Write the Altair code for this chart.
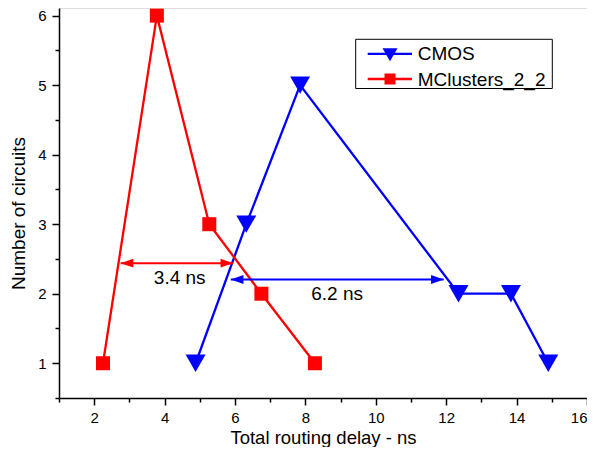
import altair as alt
import pandas as pd

# ---- data ----
cmos_x = [4.88, 6.32, 7.85, 12.35, 13.84, 14.9]
cmos_y = [1, 3, 5, 2, 2, 1]
mc_x = [2.25, 3.78, 5.27, 6.75, 8.27]
mc_y = [1, 6, 3, 2, 1]

ann_label = ["3.4 ns", "6.2 ns"]
ann_x1 = [2.75, 5.88]
ann_x2 = [5.95, 11.93]
ann_y = [2.44, 2.205]
ann_tx = [4.43, 8.90]
ann_ty = [2.144, 1.904]
ann_color = ["#FF0000", "#0000FF"]

x_major = [2, 4, 6, 8, 10, 12, 14, 16]
x_minor = [1, 3, 5, 7, 9, 11, 13, 15]
y_major = [1, 2, 3, 4, 5, 6]
y_minor = [0.5, 1.5, 2.5, 3.5, 4.5, 5.5]

legend_names = ["CMOS", "MClusters_2_2"]
legend_colors = ["#0000FF", "#FF0000"]

FONT = "Liberation Sans"
FS = 19
W, H = 528, 390

cmos = pd.DataFrame({"x": cmos_x, "y": cmos_y})
mc = pd.DataFrame({"x": mc_x, "y": mc_y})
ann = pd.DataFrame({"label": ann_label, "x1": ann_x1, "x2": ann_x2, "y": ann_y,
                    "tx": ann_tx, "ty": ann_ty, "c": ann_color})

xscale = alt.Scale(domain=[1, 16], nice=False, zero=False)
yscale = alt.Scale(domain=[0.5, 6.11], nice=False, zero=False)

xaxis = alt.Axis(
    values=x_major, orient="bottom",
    tickSize=7, tickWidth=1.5, tickColor="black", domainColor="black", domainWidth=1.5,
    labelFontSize=15, labelColor="black", labelPadding=5, labelFlush=True,
    labelOverlap=False, grid=False, titleFontSize=18.5, titleFontWeight="normal",
    titleColor="black", titleY=45, titleBaseline="alphabetic", labelFont=FONT, titleFont=FONT,
)
yaxis = alt.Axis(
    values=y_major, orient="left",
    tickSize=7, tickWidth=1.5, tickColor="black", domainColor="black", domainWidth=1.5,
    labelFontSize=15, labelColor="black", labelPadding=6,
    labelOverlap=False, labelFlush=False, grid=False, titleFontSize=FS, titleFontWeight="normal",
    titleColor="black", titleX=-35, titleY=205, titleAngle=270, titleBaseline="alphabetic",
    titleAlign="center", labelFont=FONT, titleFont=FONT,
)
xminor_axis = alt.Axis(values=x_minor, orient="bottom", labels=False, domain=False, grid=False,
                       tickSize=4, tickWidth=1.5, tickColor="black", title="")
yminor_axis = alt.Axis(values=y_minor, orient="left", labels=False, domain=False, grid=False,
                       tickSize=4, tickWidth=1.5, tickColor="black", title="")

def XQ(field):
    return alt.X(field + ":Q", scale=xscale, axis=None)

def YQ(field):
    return alt.Y(field + ":Q", scale=yscale, axis=None)

axis_layer = alt.Chart(cmos).mark_point(opacity=0).encode(
    x=alt.X("x:Q", scale=xscale, axis=xaxis, title="Total routing delay - ns"),
    y=alt.Y("y:Q", scale=yscale, axis=yaxis, title="Number of circuits"))
minor_layer = alt.Chart(cmos).mark_point(opacity=0).encode(
    x=alt.X("x:Q", scale=xscale, axis=xminor_axis),
    y=alt.Y("y:Q", scale=yscale, axis=yminor_axis))

blue_line = alt.Chart(cmos).mark_line(color="#0000FF", strokeWidth=2.3).encode(x=XQ("x"), y=YQ("y"))
blue_pts = alt.Chart(cmos).mark_point(shape="triangle-down", filled=True, size=400,
                                      color="#0000FF", opacity=1).encode(x=XQ("x"), y=YQ("y"))
red_line = alt.Chart(mc).mark_line(color="#FF0000", strokeWidth=2.3).encode(x=XQ("x"), y=YQ("y"))
red_pts = alt.Chart(mc).mark_point(shape="square", filled=True, size=196,
                                   color="#FF0000", opacity=1).encode(x=XQ("x"), y=YQ("y"))

arrows = alt.Chart(ann).mark_rule(strokeWidth=2).encode(
    x=XQ("x1"), x2="x2:Q", y=YQ("y"), color=alt.Color("c:N", scale=None))
head_l = alt.Chart(ann).mark_point(shape="M0,0 L2,-0.7 L2,0.7 Z", filled=True, size=161, opacity=1).encode(
    x=XQ("x1"), y=YQ("y"), color=alt.Color("c:N", scale=None))
head_r = alt.Chart(ann).mark_point(shape="M0,0 L-2,-0.7 L-2,0.7 Z", filled=True, size=161, opacity=1).encode(
    x=XQ("x2"), y=YQ("y"), color=alt.Color("c:N", scale=None))
ann_text = alt.Chart(ann).mark_text(font=FONT, fontSize=FS, color="black",
                                    baseline="alphabetic", align="center").encode(
    x=XQ("tx"), y=YQ("ty"), text="label:N")

# ---- legend box ----
one = pd.DataFrame({"a": [0]})
leg_box = alt.Chart(one).mark_rect(fill="white", stroke="black", strokeWidth=1).encode(
    x=alt.value(296.7), x2=alt.value(493.3), y=alt.value(31.3), y2=alt.value(80.5))
leg_items = []
rows = [(45.8, 52, "triangle-down", 225), (71, 77.7, "square", 121)]
for name, col, (ly, ty, shp, sz) in zip(legend_names, legend_colors, rows):
    leg_items.append(alt.Chart(one).mark_rule(color=col, strokeWidth=2.3).encode(
        x=alt.value(308.7), x2=alt.value(353), y=alt.value(ly)))
    leg_items.append(alt.Chart(one).mark_point(shape=shp, filled=True, size=sz, color=col, opacity=1).encode(
        x=alt.value(331), y=alt.value(ly + (1 if shp == "triangle-down" else 0))))
    leg_items.append(alt.Chart(pd.DataFrame({"t": [name]})).mark_text(
        font=FONT, fontSize=FS, color="black", align="left", baseline="alphabetic").encode(
        x=alt.value(358.7), y=alt.value(ty), text="t:N"))

chart = alt.layer(
    axis_layer, minor_layer,
    blue_line, blue_pts, red_line, red_pts, arrows, head_l, head_r, ann_text, leg_box, *leg_items
).resolve_axis(x="independent", y="independent").properties(
    width=W, height=H,
    autosize=alt.AutoSizeParams(type="none"),
    padding={"left": 51, "top": 0, "right": 0, "bottom": 49},
).configure_view(stroke=None).configure(font=FONT, background="white")

chart.save("out.html", embed_options={"renderer": "svg", "actions": False})
